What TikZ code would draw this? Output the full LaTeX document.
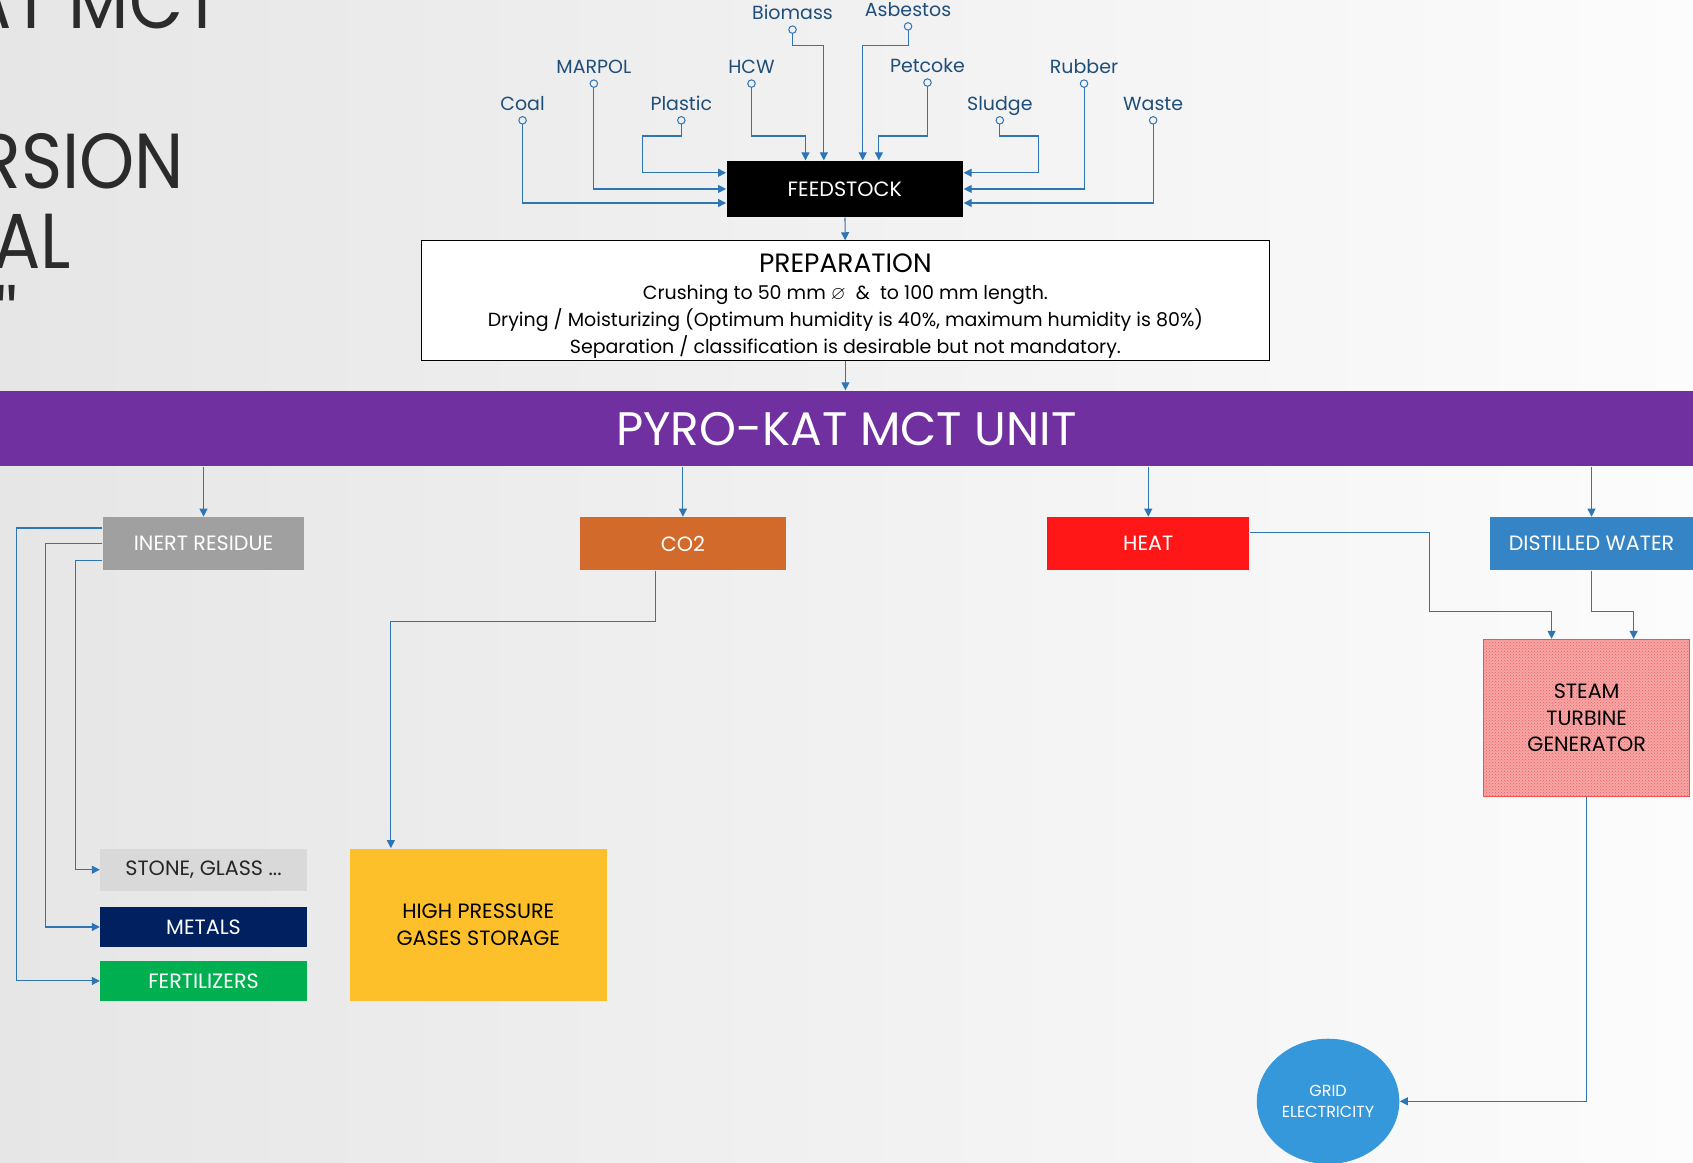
\documentclass[tikz,border=0pt]{standalone}
\usepackage{amssymb}
\usepackage{fontspec}
\setmainfont{Poppins}
\setsansfont{Poppins}
\newfontfamily\titlefont[FakeStretch=0.9]{Poppins}
\usetikzlibrary{arrows.meta,shapes.geometric,patterns}
\definecolor{edge_blue}{RGB}{46,117,182}
\definecolor{text_blue}{RGB}{31,78,121}
\definecolor{title_gray}{RGB}{43,43,43}
\definecolor{node_purple}{RGB}{112,48,160}
\definecolor{node_gray}{RGB}{160,160,160}
\definecolor{node_orange}{RGB}{210,106,44}
\definecolor{node_red}{RGB}{255,22,22}
\definecolor{node_blue}{RGB}{52,132,198}
\definecolor{node_light}{RGB}{217,217,217}
\definecolor{node_navy}{RGB}{0,32,96}
\definecolor{node_green}{RGB}{0,176,80}
\definecolor{node_yellow}{RGB}{254,192,42}
\definecolor{node_pink}{RGB}{247,166,166}
\definecolor{dot_pink}{RGB}{232,96,96}
\definecolor{edge_red}{RGB}{240,80,80}
\definecolor{node_sky}{RGB}{52,152,219}
\definecolor{bg_left}{RGB}{230,230,230}
\definecolor{bg_right}{RGB}{252,252,252}

\begin{document}
\begin{tikzpicture}[x=1.0797pt,y=-1.0797pt,>={Triangle[length=8pt,width=8pt]},line width=1.1pt]
    \tikzstyle{flow}=[->,color=edge_blue]
    \tikzstyle{feed}=[{Circle[open,length=8.5pt,line width=1pt]}->,color=edge_blue]
    \tikzstyle{src}=[anchor=south,inner xsep=0pt,inner ysep=5pt,text height=14.5pt,text depth=0pt,text=text_blue,font=\fontsize{19}{24}\selectfont]
    \tikzstyle{box}=[rectangle,inner sep=0pt,align=center,font=\fontsize{20.7}{26.5}\selectfont]
    \tikzstyle{product}=[style=box,text=white,minimum height=52.9pt]
    \tikzstyle{slidetitle}=[anchor=base east,inner sep=0pt,text=title_gray,font=\titlefont\fontsize{78}{78}\selectfont]

    \useasboundingbox (0,0) rectangle (1568,1077);
    \clip (0,0) rectangle (1568,1077);
    \shade[left color=bg_left,right color=bg_right] (0,0) rectangle (1568,1077);

    % slide title, cut by the left edge
    \node[slidetitle] (t1) at (205.6,26) {AT MCT};
    \node[slidetitle] (t2) at (171,175)  {RSION};
    \node[slidetitle] (t3) at (66,249)   {AL};
    \node[slidetitle] (t4) at (17,322)   {''};

    % feedstock sources
    \node[src] (biomass)  at (734,23.5)  {Biomass};
    \node[src] (asbestos) at (841,20.5)  {Asbestos};
    \node[src] (marpol)   at (550,73.5)  {MARPOL};
    \node[src] (hcw)      at (696,73.5)  {HCW};
    \node[src] (petcoke)  at (859,72.5)  {Petcoke};
    \node[src] (rubber)   at (1004,73.5) {Rubber};
    \node[src] (coal)     at (484,107.5) {Coal};
    \node[src] (plastic)  at (631,107.5) {Plastic};
    \node[src] (sludge)   at (926,107.5) {Sludge};
    \node[src] (waste)    at (1068,107.5) {Waste};

    \node[box,fill=black,text=white,minimum width=236.5pt,minimum height=56.1pt] (feed) at (782.5,175) {FEEDSTOCK};
    \node[box,fill=white,draw=black,minimum width=848.6pt,minimum height=119.8pt,font=\fontsize{19}{27}\selectfont] (prep) at (783,278.5)
        {\rule{0pt}{29pt}{\fontsize{26.5}{27}\selectfont PREPARATION}\\
         Crushing to 50 mm $\varnothing$\ \ \&\ \ to 100 mm length.\\
         Drying / Moisturizing (Optimum humidity is 40\%, maximum humidity is 80\%)\\
         Separation / classification is desirable but not mandatory.};
    \node[box,fill=node_purple,text=white,minimum width=1693pt,minimum height=75.6pt,font=\fontsize{47}{47}\selectfont] (unit) at (784,397) {PYRO-KAT MCT UNIT};

    % products
    \node[product,fill=node_gray,minimum width=201.9pt]   (inert) at (188.5,503.5)  {INERT RESIDUE};
    \node[product,fill=node_orange,minimum width=206.2pt] (co2)   at (632.5,503.5)  {CO2};
    \node[product,fill=node_red,minimum width=201.9pt]    (heat)  at (1063.5,503.5) {HEAT};
    \node[product,fill=node_blue,minimum width=203pt]     (water) at (1474,503.5)   {DISTILLED WATER};

    \node[box,fill=node_light,text=black!85,minimum width=206.2pt,minimum height=42.1pt] (stone)  at (188.5,805.5) {STONE, GLASS ...};
    \node[box,fill=node_navy,text=white,minimum width=206.2pt,minimum height=40pt]       (metals) at (188.5,858.5) {METALS};
    \node[box,fill=node_green,text=white,minimum width=206.2pt,minimum height=40pt]      (fert)   at (188.5,908.5) {FERTILIZERS};
    \node[box,fill=node_yellow,text=black,minimum width=257pt,minimum height=152.2pt]    (hp)     at (443,856.5)   {HIGH PRESSURE\\GASES STORAGE};
    \node[box,fill=node_pink,draw=edge_red,line width=0.8pt,text=black,minimum width=206.2pt,minimum height=157.6pt,
          postaction={pattern=crosshatch dots,pattern color=dot_pink}] (steam) at (1469.5,665) {STEAM\\TURBINE\\GENERATOR};
    \node[ellipse,inner sep=0pt,align=center,fill=node_sky,text=white,minimum width=142.5pt,minimum height=125.2pt,font=\fontsize{16}{21.6}\selectfont] (grid) at (1230,1020) {GRID\\ELECTRICITY};

    % feedstock inputs
    \draw[feed] (coal.south)     |- (feed.west |- 0,188);
    \draw[feed] (marpol.south)   |- (feed.west |- 0,175);
    \draw[feed] (plastic.south)  |- (595,126) |- (feed.west |- 0,160);
    \draw[feed] (hcw.south)      |- (746,126) -- (feed.north -| 746,0);
    \draw[feed] (biomass.south)  |- (763,42)  -- (feed.north -| 763,0);
    \draw[feed] (asbestos.south) |- (799,42)  -- (feed.north -| 799,0);
    \draw[feed] (petcoke.south)  |- (814,126) -- (feed.north -| 814,0);
    \draw[feed] (sludge.south)   |- (962,126) |- (feed.east |- 0,160);
    \draw[feed] (rubber.south)   |- (feed.east |- 0,175);
    \draw[feed] (waste.south)    |- (feed.east |- 0,188);

    \path[flow]
     (feed)                edge (prep)
     (prep)                edge (prep.south |- unit.north)
     (inert |- unit.south) edge (inert)
     (co2 |- unit.south)   edge (co2)
     (heat |- unit.south)  edge (heat)
     (water |- unit.south) edge (water)
     ;

    % residue split
    \draw[flow] (inert.west |- 0,489) -| (fert.west -| 15,0)   -- (fert);
    \draw[flow] (inert.west)          -| (metals.west -| 42,0) -- (metals);
    \draw[flow] (inert.west |- 0,519) -| (stone.west -| 70,0)  -- (stone);
    \draw[flow] (co2.south -| 607,0)  |- (362,576) -- (hp.north -| 362,0);
    \draw[flow] (heat.east |- 0,493)  -| (1324,566) -| (steam.north -| 1437,0);
    \draw[flow] (water.south)         |- (1513,566) -- (steam.north -| 1513,0);
    \draw[flow] (steam) |- (grid);
\end{tikzpicture}
\end{document}
